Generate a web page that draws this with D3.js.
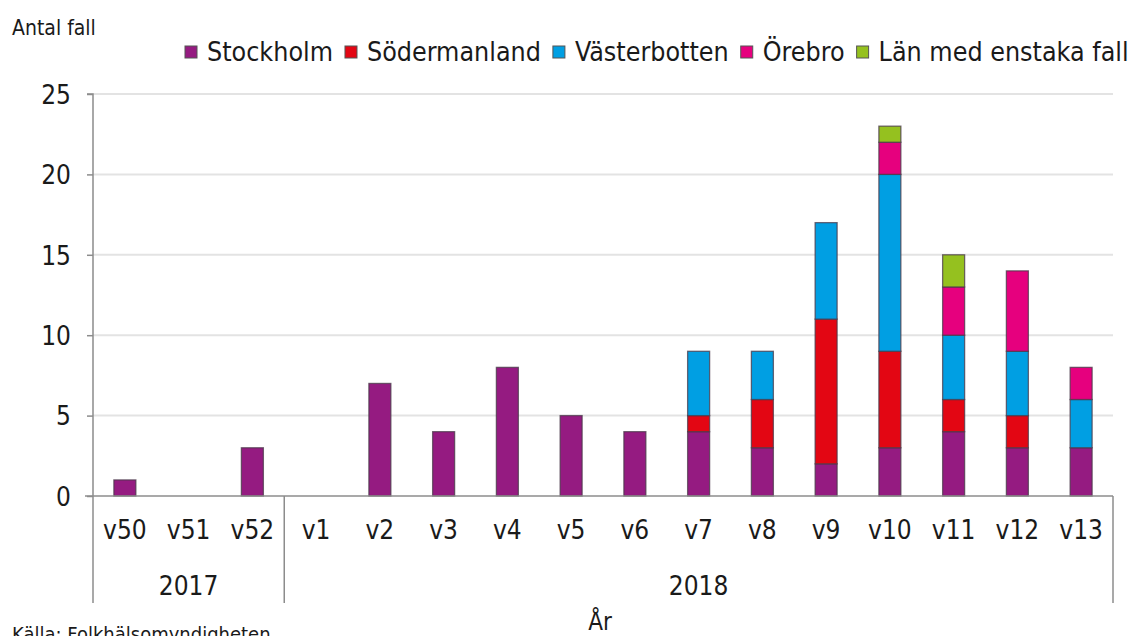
<!DOCTYPE html>
<html><head><meta charset="utf-8">
<script src="https://cdn.jsdelivr.net/npm/d3@7"></script>
<style>body{margin:0;background:#fff}svg{display:block}text{font-family:"DejaVu Sans Condensed","DejaVu Sans",sans-serif;fill:#1a1a1a}</style>
</head><body><svg id="c" width="1134" height="636"></svg>
<script>
const weeks = ["v50","v51","v52","v1","v2","v3","v4","v5","v6","v7","v8","v9","v10","v11","v12","v13"];
const years = [{label:"2017", n:3},{label:"2018", n:13}];
const seriesNames = ["Stockholm","Södermanland","Västerbotten","Örebro","Län med enstaka fall"];
const stockholm    = [1,0,3,0,7,4,8,5,4,4,3,2,3,4,3,3];
const sodermanland = [0,0,0,0,0,0,0,0,0,1,3,9,6,2,2,0];
const vasterbotten = [0,0,0,0,0,0,0,0,0,4,3,6,11,4,4,3];
const orebro       = [0,0,0,0,0,0,0,0,0,0,0,0,2,3,5,2];
const lan          = [0,0,0,0,0,0,0,0,0,0,0,0,1,2,0,0];
const yTicks = [0,5,10,15,20,25];
const colors = ["#951b81","#e30613","#009fe3","#e6007e","#95c11f"];

const svg = d3.select("#c");
const m = {l:93, r:1113, t:94, b:496};
const x = d3.scaleBand().domain(weeks).range([m.l, m.r]).paddingInner(0.655).paddingOuter(0.3275);
const y = d3.scaleLinear().domain([0,25]).range([m.b, m.t]);

svg.append("g").selectAll("line").data(yTicks.filter(d=>d>0)).join("line")
  .attr("x1", m.l).attr("x2", m.r).attr("y1", d=>y(d)).attr("y2", d=>y(d))
  .attr("stroke","#e3e3e3").attr("stroke-width",2);

const rows = weeks.map((w,i)=>({week:w, s0:stockholm[i], s1:sodermanland[i], s2:vasterbotten[i], s3:orebro[i], s4:lan[i]}));
const stack = d3.stack().keys(["s0","s1","s2","s3","s4"])(rows);
svg.append("g").selectAll("g").data(stack).join("g")
  .attr("fill",(d,i)=>colors[i])
  .selectAll("rect").data(d=>d.filter(p=>p[1]-p[0]>0)).join("rect")
  .attr("x", d=>x(d.data.week)).attr("width", x.bandwidth())
  .attr("y", d=>y(d[1])).attr("height", d=>y(d[0])-y(d[1]))
  .attr("stroke","#4a3a4a").attr("stroke-width",1.3).attr("stroke-opacity",0.75);

const ya = d3.axisLeft(y).tickValues(yTicks).tickSize(6).tickPadding(16);
const yg = svg.append("g").attr("transform",`translate(${m.l},0)`).call(ya);
yg.select(".domain").attr("stroke","#8c8c8c").attr("stroke-width",1.5).attr("d",`M-6,${m.t}H0V${m.b}`);
yg.selectAll(".tick line").attr("stroke","#8c8c8c").attr("stroke-width",1.5);
yg.selectAll("text").attr("font-size",26).attr("dy","0.36em").style("fill","#1a1a1a");

const xa = d3.axisBottom(x).tickSize(0).tickPadding(25);
const xg = svg.append("g").attr("transform",`translate(0,${m.b})`).call(xa);
xg.select(".domain").attr("stroke","#8c8c8c").attr("stroke-width",1.5).attr("d",`M${m.l-8},0H${m.r}`);
xg.selectAll("text").attr("font-size",26).style("fill","#1a1a1a");

const step = x.step();
let idx = 0;
const bounds = [m.l];
years.forEach(yr=>{
  const x0 = m.l + idx*step;
  const x1 = m.l + (idx+yr.n)*step;
  bounds.push(x1);
  svg.append("text").attr("x",(x0+x1)/2).attr("y",595).attr("text-anchor","middle").attr("font-size",26).text(yr.label);
  idx += yr.n;
});
svg.append("g").selectAll("line").data(bounds).join("line")
  .attr("x1",d=>d).attr("x2",d=>d).attr("y1",m.b).attr("y2",603)
  .attr("stroke","#8c8c8c").attr("stroke-width",1.5);

svg.append("text").attr("x",12).attr("y",35).attr("font-size",21).text("Antal fall");
svg.append("text").attr("x",600).attr("y",630).attr("text-anchor","middle").attr("font-size",24).text("År");
svg.append("text").attr("x",12).attr("y",641).attr("font-size",20).text("Källa: Folkhälsomyndigheten");

const lg = svg.append("g");
let lx = 185;
seriesNames.forEach((name,i)=>{
  lg.append("rect").attr("x",lx).attr("y",46).attr("width",12).attr("height",12)
    .attr("fill",colors[i]).attr("stroke","#555").attr("stroke-width",1);
  const t = lg.append("text").attr("x",lx+22).attr("y",61).attr("font-size",26.6).text(name);
  lx += 22 + t.node().getComputedTextLength() + 12;
});
</script></body></html>
